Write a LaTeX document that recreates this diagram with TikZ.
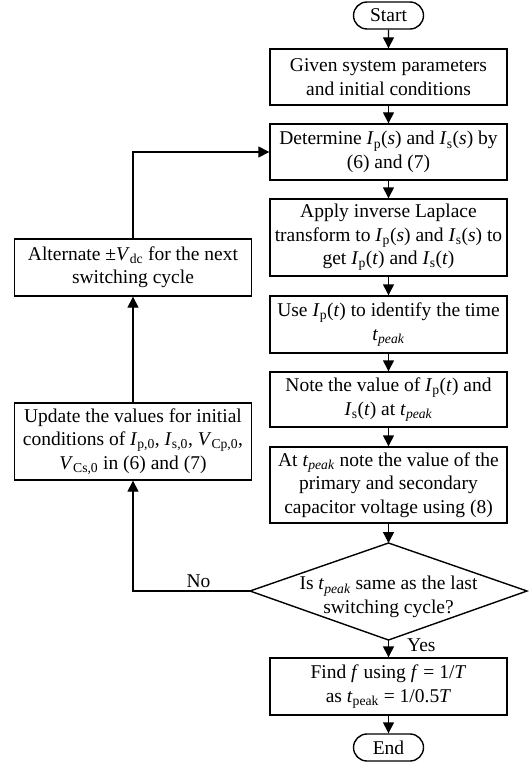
\documentclass[tikz,border=0pt]{standalone}
\usepackage{fontspec}
\setmainfont{Liberation Serif}
\usetikzlibrary{arrows.meta,shapes.misc}
\newcommand{\vi}[2]{\textit{#1}\textsubscript{#2}}
\begin{document}
\begin{tikzpicture}[x=1pt,y=-1pt,
  font=\fontsize{19.5}{23.4}\selectfont,
  box/.style={draw,line width=1.4pt,minimum width=237pt,align=center,inner sep=0pt},
  term/.style={draw,line width=1.4pt,rounded rectangle,minimum width=70pt,minimum height=27pt,inner sep=0pt},
  arr/.style={line width=1.4pt,-{Triangle[width=11pt,length=11pt]}},
  conn/.style={line width=1.4pt},
]
\useasboundingbox (0,0) rectangle (528,765);
\node[term] (start) at (388.5,15.5) {Start};
\node[box,minimum height=56pt] (b1) at (388.5,77) {Given system parameters\\and initial conditions};
\node[box,minimum height=56pt] (b2) at (388.5,152) {Determine \vi{I}{p}(\textit{s}) and \vi{I}{s}(\textit{s}) by\\(6) and (7)};
\node[box,minimum height=77pt] (b3) at (388.5,237.5) {Apply inverse Laplace\\transform to \vi{I}{p}(\textit{s}) and \vi{I}{s}(\textit{s}) to\\get \vi{I}{p}(\textit{t}) and \vi{I}{s}(\textit{t})};
\node[box,minimum height=57pt] (b4) at (388.5,324.5) {Use \vi{I}{p}(\textit{t}) to identify the time\\\vi{t}{\textit{peak}}};
\node[box,minimum height=55pt] (b5) at (388.5,399.5) {Note the value of \vi{I}{p}(\textit{t}) and\\\vi{I}{s}(\textit{t}) at \vi{t}{\textit{peak}}};
\node[box,minimum height=76pt] (b6) at (388.5,485) {At \vi{t}{\textit{peak}} note the value of the\\primary and secondary\\capacitor voltage using (8)};
\coordinate (dT) at (388.5,543);
\coordinate (dR) at (527,591);
\coordinate (dB) at (388.5,640);
\coordinate (dL) at (250,591);
\draw[conn] (dT) -- (dR) -- (dB) -- (dL) -- cycle;
\node[align=center,inner sep=0pt] (dec) at (388.5,597) {Is \vi{t}{\textit{peak}} same as the last\\switching cycle?};
\node[box,minimum height=57pt] (b7) at (388.5,686.5) {Find \textit{f} using \textit{f} = 1/\textit{T}\\as \vi{t}{peak} = 1/0.5\textit{T}};
\node[term] (end) at (388.5,747.5) {End};
\node[box,minimum height=57pt] (alt) at (133,267.5) {Alternate ±\vi{V}{dc} for the next\\switching cycle};
\node[box,minimum height=77pt] (upd) at (133,441.5) {Update the values for initial\\conditions of \vi{I}{p,0}, \vi{I}{s,0}, \vi{V}{Cp,0},\\\vi{V}{Cs,0} in (6) and (7)};
\draw[arr] (start) -- (b1);
\draw[arr] (b1) -- (b2);
\draw[arr] (b2) -- (b3);
\draw[arr] (b3) -- (b4);
\draw[arr] (b4) -- (b5);
\draw[arr] (b5) -- (b6);
\draw[arr] (b6) -- (dT);
\draw[arr] (dB) -- node[anchor=west,pos=0.3,inner sep=0pt,xshift=18pt]{Yes} (b7);
\draw[arr] (b7) -- (end);
\draw[arr] (dL) -| node[pos=0.22,above,inner sep=3pt]{No} (upd.south);
\draw[arr] (upd) -- (alt);
\draw[arr] (alt.north) |- (b2.west);
\end{tikzpicture}
\end{document}
